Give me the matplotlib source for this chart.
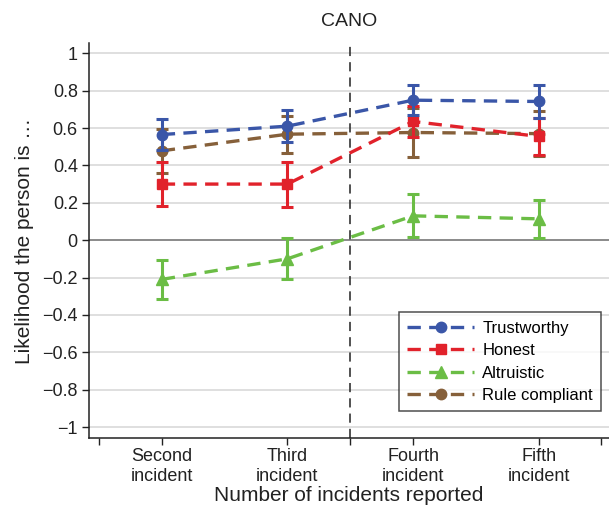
import matplotlib
matplotlib.use("Agg")
import matplotlib.pyplot as plt
from matplotlib.ticker import FixedLocator

plt.rcParams['font.family'] = ['Liberation Sans', 'DejaVu Sans']

categories = ["Second\nincident", "Third\nincident", "Fourth\nincident", "Fifth\nincident"]
x = [1, 2, 3, 4]

trust = [0.565, 0.61, 0.749, 0.742]
trust_err = [0.085, 0.085, 0.08, 0.086]
honest = [0.30, 0.30, 0.635, 0.555]
honest_err = [0.117, 0.12, 0.085, 0.10]
altru = [-0.21, -0.10, 0.13, 0.114]
altru_err = [0.105, 0.11, 0.115, 0.102]
rule = [0.478, 0.567, 0.576, 0.57]
rule_err = [0.118, 0.10, 0.133, 0.12]

yticks = [1, 0.8, 0.6, 0.4, 0.2, 0, -0.2, -0.4, -0.6, -0.8, -1]
ytick_labels = ["1", "0.8", "0.6", "0.4", "0.2", "0", "\u22120.2", "\u22120.4", "\u22120.6", "\u22120.8", "\u22121"]

fig = plt.figure(figsize=(6.09, 5.18), dpi=100)
ax = fig.add_axes([0.146, 0.154, 0.854, 0.763])

for yt in yticks:
    if yt == 0:
        ax.axhline(yt, color="#777777", lw=1.2, zorder=1)
    else:
        ax.axhline(yt, color="#d9d9d9", lw=1.2, zorder=1)

ax.axvline(2.5, color="#222222", lw=1.1, ls=(0, (6, 4)), zorder=2)

series = [
    ("Trustworthy", trust, trust_err, "#3a56a8", "o", 7.5),
    ("Honest", honest, honest_err, "#e1222b", "s", 7),
    ("Altruistic", altru, altru_err, "#6bbd45", "^", 8.5),
    ("Rule compliant", rule, rule_err, "#86603a", "o", 7.5),
]
order_z = {"Trustworthy": 6, "Honest": 5, "Altruistic": 4, "Rule compliant": 3}
handles = []
for name, vals, err, col, mk, ms in series:
    ax.errorbar(x, vals, yerr=err, fmt="none", ecolor=col, elinewidth=2.2,
                capsize=4.5, capthick=2.2, zorder=order_z[name])
    h, = ax.plot(x, vals, ls=(0, (4, 2.5)), lw=2.4, color=col, marker=mk,
                 markersize=ms, markeredgecolor=col,
                 label=name, zorder=order_z[name] + 0.5)
    handles.append(h)

ax.set_xlim(0.42, 4.56)
ax.set_ylim(-1.06, 1.055)
ax.set_yticks(yticks)
ax.set_yticklabels(ytick_labels)
ax.set_xticks(x)
ax.set_xticklabels(categories)
ax.xaxis.set_minor_locator(FixedLocator([0.5, 2.5, 4.5]))
ax.tick_params(axis="both", which="major", direction="out", length=5, width=1,
               labelsize=13, colors="#222222")
ax.tick_params(axis="x", which="minor", direction="out", length=5, width=1, color="#222222")
ax.tick_params(axis="x", pad=2)
ax.tick_params(axis="y", pad=3)
for s in ["top", "right"]:
    ax.spines[s].set_visible(False)
for s in ["left", "bottom"]:
    ax.spines[s].set_color("#222222")
    ax.spines[s].set_linewidth(1.1)

ax.set_ylabel("Likelihood the person is \u2026", fontsize=15, color="#222222", labelpad=6)
ax.set_xlabel("Number of incidents reported", fontsize=15, color="#222222", labelpad=1)
ax.set_title("CANO", fontsize=14, color="#222222", pad=12)

leg = ax.legend(handles=handles, loc="lower right", bbox_to_anchor=(0.985, 0.068),
                fontsize=12, frameon=True, fancybox=False, edgecolor="#222222",
                handlelength=4.0, borderpad=0.5, labelspacing=0.45, handletextpad=0.5,
                borderaxespad=0.0)
leg.get_frame().set_linewidth(1.1)

fig.savefig("out.png", dpi=100)
